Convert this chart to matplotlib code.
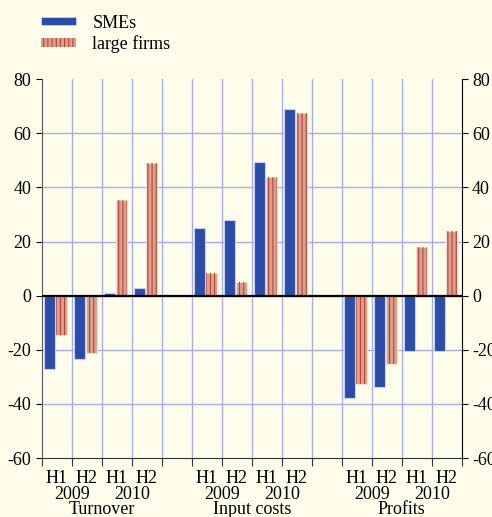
import numpy as np
import matplotlib.pyplot as plt
import matplotlib.transforms as mtransforms
from matplotlib.patches import Patch

plt.rcParams['font.family'] = ['Liberation Serif', 'DejaVu Serif']
plt.rcParams['axes.unicode_minus'] = False
plt.rcParams['hatch.linewidth'] = 0.7

# data
groups = ['Turnover', 'Input costs', 'Profits']
halves = ['H1', 'H2', 'H1', 'H2']
years = ['2009', '2010']
smes = [[-27, -23.4, 1, 3], [25, 28, 49.3, 69], [-37.8, -33.7, -20.6, -20.6]]
large = [[-14.6, -21.3, 35.4, 49], [8.2, 4.9, 43.7, 67.5], [-32.7, -25.3, 18, 24]]
yticks = [-60, -40, -20, 0, 20, 40, 60, 80]

bg = '#fefdeb'
blue = '#2b4da8'
salmon = '#d9a08d'
darkred = '#b3392b'
gridc = '#a9ade6'

fig = plt.figure(figsize=(4.92, 5.17), dpi=100, facecolor=bg)
ax = fig.add_axes([0.0854, 0.114, 0.853, 0.733], facecolor=bg)

# slot positions: 4 per group with one empty slot between groups
pos = []
for g in range(len(groups)):
    pos.append(np.arange(4) + g * 5)
pos = np.array(pos)

w = 0.36
for g in range(len(groups)):
    ax.bar(pos[g] - 0.24, smes[g], w, color=blue, edgecolor='#c8d0ee',
           linewidth=0.8, zorder=3)
    ax.bar(pos[g] + 0.16, large[g], w, color=salmon, edgecolor='#f0ddd5',
           linewidth=0.8, zorder=3)
    ax.bar(pos[g] + 0.16, large[g], w, color='none', edgecolor=darkred,
           linewidth=0, hatch='||||', zorder=4)

ax.set_xlim(-0.5, 13.5)
ax.set_ylim(-60, 80)
bounds = np.arange(-0.5, 14, 1)
ax.set_xticks(bounds)
ax.set_xticklabels([])
ax.set_yticks(yticks)
ax.set_yticklabels([str(t) for t in yticks])
for b in bounds[1:-1]:
    ax.axvline(b, color=gridc, lw=1, zorder=1)
for t in yticks[1:-1]:
    ax.axhline(t, color=gridc, lw=1, zorder=1)
ax.axhline(0, color='black', lw=1.6, zorder=5)

ax.tick_params(axis='y', which='both', left=True, right=True, labelleft=True,
               labelright=True, direction='out', length=4, labelsize=13)
ax.tick_params(axis='x', direction='out', length=6, color='#333333')
ax.spines['top'].set_visible(False)
ax.spines['left'].set_color('#555555')
ax.spines['right'].set_color('black')
ax.spines['bottom'].set_color('#333333')

trans = mtransforms.blended_transform_factory(ax.transData, ax.transAxes)
for g in range(len(groups)):
    for i in range(4):
        ax.text(pos[g][i], -0.055, halves[i], transform=trans, ha='center',
                va='center', fontsize=13, clip_on=False)
    for j in range(2):
        ax.text(pos[g][2 * j] + 0.5, -0.097, years[j], transform=trans,
                ha='center', va='center', fontsize=13, clip_on=False)
    ax.text(pos[g].mean(), -0.135, groups[g], transform=trans, ha='center',
            va='center', fontsize=13, clip_on=False)

# legend
h1 = Patch(facecolor=blue, edgecolor='#c8d0ee', linewidth=0.6)
h2 = Patch(facecolor=salmon, edgecolor=darkred, hatch='||||', linewidth=0)
fig.legend([h1, h2], ['SMEs', 'large firms'], loc='upper left',
           bbox_to_anchor=(0.05, 1.003), frameon=False, fontsize=13,
           handlelength=1.95, handleheight=0.35, handletextpad=0.9,
           labelspacing=0.2)

fig.savefig('out.png', dpi=100, facecolor=bg)
